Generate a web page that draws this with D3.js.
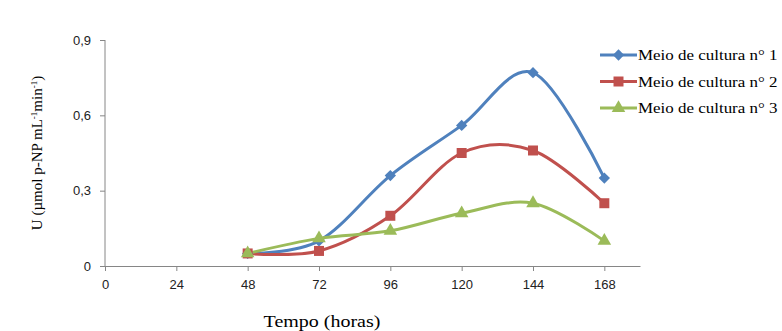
<!DOCTYPE html>
<html>
<head>
<meta charset="utf-8">
<script src="https://cdn.jsdelivr.net/npm/d3@7"></script>
<style>
  body { margin: 0; background: #fff; }
  svg { display: block; }
</style>
</head>
<body>
<div id="chart"></div>
<script>
var width = 782,
    height = 331;

var hours = [48, 72, 96, 120, 144, 168];
var meio1 = [0.05, 0.10, 0.36, 0.56, 0.77, 0.35];
var meio2 = [0.05, 0.06, 0.20, 0.45, 0.46, 0.25];
var meio3 = [0.05, 0.11, 0.14, 0.21, 0.25, 0.10];
var seriesNames = ["Meio de cultura n° 1", "Meio de cultura n° 2", "Meio de cultura n° 3"];
var xTicks = [0, 24, 48, 72, 96, 120, 144, 168];
var yTicks = [0, 0.3, 0.6, 0.9];

var colors = ["#4F81BD", "#C0504D", "#9BBB59"];
var shapes = [d3.symbolSquare, d3.symbolSquare, d3.symbolTriangle];
var sizes = [64, 100, 80];
var rot = [45, 0, 0];

var x = d3.scaleLinear().domain([0, 180]).range([105, 640]);
var y = d3.scaleLinear().domain([0, 0.9]).range([266, 40]);

var svg = d3.select("#chart").append("svg")
  .attr("width", width)
  .attr("height", height);

// y axis
var yAxis = svg.append("g")
  .attr("transform", "translate(" + x(0) + ",0)")
  .call(d3.axisLeft(y).tickValues(yTicks).tickSize(5).tickPadding(9)
    .tickFormat(function(d) { return d === 0 ? "0" : d3.format(".1f")(d).replace(".", ","); }));

// x axis
var xAxis = svg.append("g")
  .attr("transform", "translate(0," + y(0) + ")")
  .call(d3.axisBottom(x).tickValues(xTicks).tickSize(5).tickPadding(9).tickSizeOuter(0));

[yAxis, xAxis].forEach(function(g) {
  g.select(".domain").attr("stroke", "#868686");
  g.selectAll(".tick line").attr("stroke", "#868686");
  g.selectAll("text")
    .attr("font-family", "Liberation Sans, Arial, sans-serif")
    .attr("font-size", 13)
    .attr("fill", "#222");
});
yAxis.select(".domain").attr("d", "M0," + y(0.9) + "V" + y(0));

var line = d3.line()
  .x(function(d) { return x(d[0]); })
  .y(function(d) { return y(d[1]); })
  .curve(d3.curveCardinal.tension(0));

var allSeries = [meio1, meio2, meio3];

allSeries.forEach(function(vals, i) {
  var pts = hours.map(function(h, j) { return [h, vals[j]]; });
  svg.append("path")
    .datum(pts)
    .attr("fill", "none")
    .attr("stroke", colors[i])
    .attr("stroke-width", 3)
    .attr("d", line);
});

// markers drawn after lines
allSeries.forEach(function(vals, i) {
  var pts = hours.map(function(h, j) { return [h, vals[j]]; });
  svg.selectAll(".m" + i)
    .data(pts)
    .enter().append("path")
    .attr("class", "m" + i)
    .attr("transform", function(d) { return "translate(" + x(d[0]) + "," + y(d[1]) + ") rotate(" + rot[i] + ")"; })
    .attr("d", d3.symbol().type(shapes[i]).size(sizes[i]))
    .attr("fill", colors[i]);
});

// legend
var legend = svg.append("g").attr("transform", "translate(600,55)");
seriesNames.forEach(function(name, i) {
  var row = legend.append("g").attr("transform", "translate(0," + (i * 26.5) + ")");
  row.append("line")
    .attr("x1", 0).attr("x2", 37)
    .attr("stroke", colors[i]).attr("stroke-width", 3);
  row.append("path")
    .attr("transform", "translate(18.5,0) rotate(" + rot[i] + ")")
    .attr("d", d3.symbol().type(shapes[i]).size(sizes[i]))
    .attr("fill", colors[i]);
  row.append("text")
    .attr("transform", "translate(38,5) scale(1.13,1)")
    .attr("font-family", "Liberation Serif, Times New Roman, serif")
    .attr("font-size", 15)
    .attr("fill", "#000")
    .text(name);
});

// axis titles
svg.append("text")
  .attr("transform", "translate(42,153) rotate(-90)")
  .attr("text-anchor", "middle")
  .attr("font-family", "Liberation Serif, Times New Roman, serif")
  .attr("font-size", 15)
  .attr("fill", "#000")
  .html('U (µmol p-NP mL<tspan dy="-5" font-size="9">-1</tspan><tspan dy="5">min</tspan><tspan dy="-5" font-size="9">-1</tspan><tspan dy="5">)</tspan>');

svg.append("text")
  .attr("transform", "translate(322,327) scale(1.25,1)")
  .attr("text-anchor", "middle")
  .attr("font-family", "Liberation Serif, Times New Roman, serif")
  .attr("font-size", 16)
  .attr("fill", "#000")
  .text("Tempo (horas)");
</script>
</body>
</html>
